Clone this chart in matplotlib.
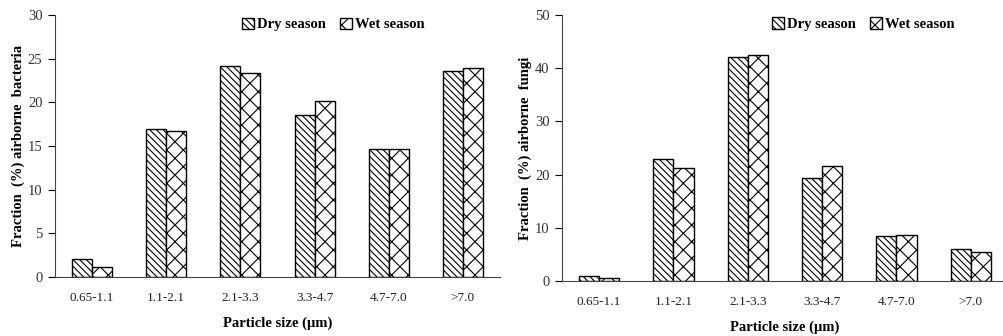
import numpy as np
import matplotlib.pyplot as plt

plt.rcParams['font.family'] = ['Liberation Serif', 'DejaVu Serif']
plt.rcParams['hatch.linewidth'] = 0.8

sizes = ['0.65-1.1', '1.1-2.1', '2.1-3.3', '3.3-4.7', '4.7-7.0', '>7.0']
bact_dry = [2.1, 16.9, 24.2, 18.5, 14.6, 23.6]
bact_wet = [1.1, 16.7, 23.4, 20.2, 14.7, 23.9]
fungi_dry = [0.9, 23.0, 42.1, 19.4, 8.4, 6.1]
fungi_wet = [0.6, 21.2, 42.5, 21.6, 8.6, 5.4]

fig = plt.figure(figsize=(10.04, 3.36), dpi=100)
ax1 = fig.add_axes([55 / 1004, 1 - 277 / 336, 445 / 1004, 262 / 336])
ax2 = fig.add_axes([562 / 1004, 1 - 281 / 336, 446 / 1004, 266 / 336])

x = np.arange(len(sizes))
w = 0.27


def draw(ax, dry, wet, ymax, ystep, ylabel, legx, ypad):
    ax.bar(x - w / 2, dry, w, color='white', edgecolor='black', hatch='\\\\\\\\\\', lw=1.0, label='Dry season')
    ax.bar(x + w / 2, wet, w, color='white', edgecolor='black', hatch='xx', lw=1.0, label='Wet season')
    ax.set_xlim(-0.5, 5.5)
    ax.set_ylim(0, ymax)
    ax.set_yticks(np.arange(0, ymax + 1, ystep))
    ax.set_xticks(x)
    ax.set_xticklabels(sizes)
    ax.tick_params(axis='x', length=0, pad=11, labelsize=9.5, labelcolor='#222222')
    ax.tick_params(axis='y', length=5, labelsize=10.5, labelcolor='#333333', pad=4)
    for s in ['top', 'right']:
        ax.spines[s].set_visible(False)
    for s in ['left', 'bottom']:
        ax.spines[s].set_color('#444444')
    ax.set_xlabel('Particle size (µm)', fontweight='bold', fontsize=10.5, labelpad=9)
    ax.set_ylabel(ylabel, fontweight='bold', fontsize=10.5, labelpad=ypad)
    ax.legend(loc='upper center', bbox_to_anchor=(legx, 1.04), ncol=2, frameon=False,
              prop={'weight': 'bold', 'size': 10.5}, handlelength=0.8, handleheight=0.8,
              handletextpad=0.2, columnspacing=1.0)


draw(ax1, bact_dry, bact_wet, 30, 5, 'Fraction  (%) airborne  bacteria', 0.625, 2)
draw(ax2, fungi_dry, fungi_wet, 50, 10, 'Fraction  (%) airborne  fungi', 0.675, 2)

fig.savefig('out.png', dpi=100)
